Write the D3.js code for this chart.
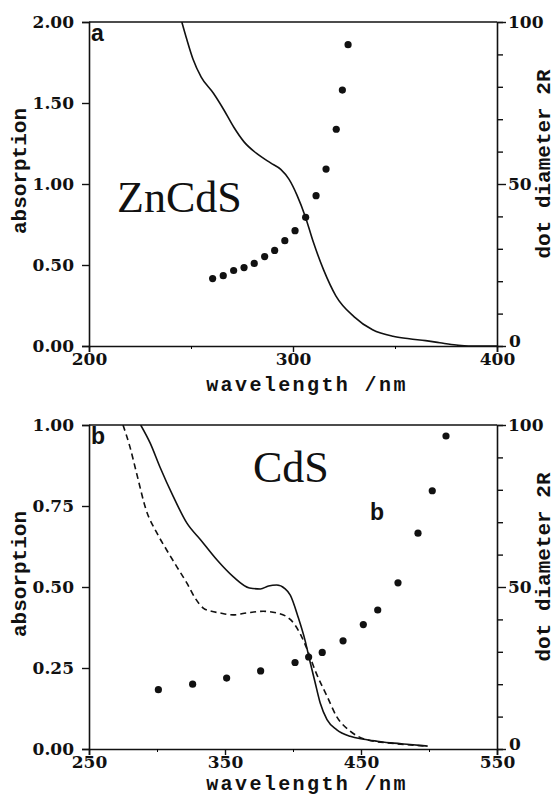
<!DOCTYPE html>
<html>
<head>
<meta charset="utf-8">
<script src="https://cdn.jsdelivr.net/npm/d3@7"></script>
<style>
body { margin: 0; background: #fff; }
.tick-label { font-family: 'DejaVu Serif', serif; font-weight: bold; font-size: 17px; fill: #111; }
.title { font-family: 'Liberation Mono', monospace; font-weight: bold; font-size: 21px; fill: #111; }
.xtitle { font-family: 'Liberation Mono', monospace; font-weight: bold; font-size: 20px; letter-spacing: 2.4px; fill: #111; }
.big { font-family: 'Liberation Serif', serif; font-size: 44px; fill: #111; }
.tag { font-family: 'Liberation Sans', sans-serif; font-weight: bold; font-size: 23px; fill: #111; }
</style>
</head>
<body>
<svg width="555" height="796"></svg>
<script>
// ZnCdS absorption spectrum (panel a)
var zncdsWl  = [245.5, 248, 251, 255, 261, 266, 271, 276, 282, 289, 294, 298, 302, 306, 310, 315, 321, 330, 339, 349, 357, 365, 372, 380, 386, 400];
var zncdsAbs = [2.00, 1.89, 1.77, 1.66, 1.56, 1.46, 1.35, 1.26, 1.19, 1.13, 1.09, 1.03, 0.93, 0.80, 0.64, 0.47, 0.31, 0.18, 0.10, 0.06, 0.045, 0.033, 0.02, 0.006, 0.0, 0.0];
// ZnCdS dot diameter points
var zncdsDotWl   = [260.6, 265.8, 270.9, 276, 281, 286.1, 291, 296, 301, 306.2, 311.3, 316.2, 321.2, 324.2, 327];
var zncdsDotSize = [20.8, 21.7, 23.3, 24.2, 25.5, 27.6, 29.5, 32.5, 35.6, 39.7, 46.4, 54.6, 66.9, 79.0, 93.0];

// CdS spectra (panel b), solid and dashed
var cdsWlSolid  = [288, 295, 302, 312, 322, 332, 344, 356, 368, 376, 382, 388, 394, 398, 404, 409, 412.5, 416, 420, 425, 432, 442, 452, 462, 474, 486, 499];
var cdsAbsSolid = [1.00, 0.944, 0.872, 0.779, 0.697, 0.646, 0.584, 0.532, 0.497, 0.494, 0.503, 0.506, 0.495, 0.475, 0.404, 0.333, 0.27, 0.21, 0.142, 0.091, 0.060, 0.039, 0.030, 0.024, 0.018, 0.014, 0.009];
var cdsWlDash  = [275, 280, 285, 292, 300, 307, 314.5, 322, 328, 334, 340, 346, 356, 366, 378, 388, 398, 405, 411, 417, 425, 432, 442, 454, 474, 499];
var cdsAbsDash = [1.00, 0.934, 0.851, 0.738, 0.666, 0.615, 0.563, 0.512, 0.466, 0.435, 0.425, 0.42, 0.414, 0.42, 0.425, 0.42, 0.40, 0.358, 0.301, 0.235, 0.163, 0.101, 0.055, 0.029, 0.017, 0.009];
// CdS dot diameter points
var cdsDotWl   = [301, 326.2, 351.2, 376.2, 401.5, 411.5, 421.5, 436.8, 451.7, 462.3, 477.2, 491.9, 502.4, 512.5];
var cdsDotSize = [18.3, 20.0, 21.9, 24.1, 26.7, 28.4, 29.8, 33.4, 38.4, 42.9, 51.3, 66.6, 79.7, 96.6];

// tick values
var zncdsXTicks = [200, 300, 400];
var zncdsYTicks = [0, 0.5, 1.0, 1.5, 2.0];
var cdsXTicks = [250, 350, 450, 550];
var cdsYTicks = [0, 0.25, 0.5, 0.75, 1.0];
var sizeTicks = [0, 10, 20, 30, 40, 50, 60, 70, 80, 90, 100];
var sizeLabels = [0, 50, 100];

var svg = d3.select('svg');
var plotW = 408, plotH = 324;

function drawPanel(opts) {
    var g = svg.append('g')
        .attr('transform', 'translate(' + [89, opts.top] + ')');
    var x = d3.scaleLinear().domain(opts.xDomain).range([0, plotW]);
    var y = d3.scaleLinear().domain(opts.yDomain).range([plotH, 0]);
    var y2 = d3.scaleLinear().domain([0, 100]).range([plotH, 0]);

    g.append('clipPath').attr('id', opts.id + '-clip')
        .append('rect').attr('width', plotW).attr('height', plotH);

    // frame top
    g.append('line').attr('x1', 0).attr('x2', plotW).attr('y1', 0).attr('y2', 0)
        .attr('stroke', '#111').attr('stroke-width', 1.6);

    // bottom axis
    var xMinor = [];
    for (var i = 0; i < opts.xTicks.length - 1; i++) xMinor.push((opts.xTicks[i] + opts.xTicks[i + 1]) / 2);
    var xAxis = g.append('g').attr('class', 'x axis')
        .attr('transform', 'translate(0,' + plotH + ')')
        .call(d3.axisBottom(x).tickValues(opts.xTicks).tickSize(6).tickFormat(d3.format('d')));
    g.append('g').attr('transform', 'translate(0,' + plotH + ')')
        .call(d3.axisBottom(x).tickValues(xMinor).tickSize(3).tickFormat(''))
        .select('.domain').remove();

    // left axis
    var yAxis = g.append('g').attr('class', 'y axis')
        .call(d3.axisLeft(y).tickValues(opts.yTicks).tickSize(7).tickFormat(d3.format('.2f')));

    // right axis
    var y2Axis = g.append('g').attr('class', 'y2 axis')
        .attr('transform', 'translate(' + plotW + ',0)')
        .call(d3.axisRight(y2).tickValues(sizeTicks).tickSize(6)
            .tickFormat(function(d) { return sizeLabels.indexOf(d) >= 0 ? d : ''; }));
    y2Axis.selectAll('.tick line').attr('x2', function(d) { return sizeLabels.indexOf(d) >= 0 ? 9 : 6; });

    [xAxis, yAxis, y2Axis].forEach(function(a) {
        a.select('.domain').attr('stroke', '#111').attr('stroke-width', 1.6);
        a.selectAll('.tick line').attr('stroke', '#111').attr('stroke-width', 1.4);
        a.selectAll('.tick text').attr('class', 'tick-label').attr('font-size', null).attr('font-family', null);
    });
    xAxis.selectAll('.tick text').attr('dy', '0.95em').attr('y', 3);
    yAxis.selectAll('.tick text').attr('x', -15);
    y2Axis.selectAll('.tick text').attr('x', function(d) { return d === 0 ? 12 : 11; })
        .attr('dy', function(d) { return d === 0 ? '0.05em' : '0.32em'; });

    // curves
    var plot = g.append('g').attr('clip-path', 'url(#' + opts.id + '-clip)');
    var line = d3.line()
        .x(function(d) { return x(d[0]); })
        .y(function(d) { return y(d[1]); })
        .curve(d3.curveMonotoneX);
    opts.curves.forEach(function(c) {
        plot.append('path')
            .datum(d3.zip(c.wl, c.abs))
            .attr('fill', 'none')
            .attr('stroke', '#111')
            .attr('stroke-width', 1.6)
            .attr('stroke-dasharray', c.dash ? '6,4' : null)
            .attr('d', line);
    });

    // dot diameter points
    g.selectAll('.dot')
        .data(d3.zip(opts.dotWl, opts.dotSize))
        .enter().append('circle')
        .attr('class', 'dot')
        .attr('cx', function(d) { return x(d[0]); })
        .attr('cy', function(d) { return y2(d[1]); })
        .attr('r', 3.6)
        .attr('fill', '#111');

    // axis titles
    g.append('text').attr('class', 'xtitle')
        .attr('transform', 'translate(' + [218, plotH + opts.xTitleGap] + ')')
        .attr('text-anchor', 'middle')
        .text('wavelength /nm');
    g.append('text').attr('class', 'title')
        .attr('transform', 'translate(' + [-63, plotH / 2 - 13] + ')rotate(-90)')
        .attr('text-anchor', 'middle')
        .text('absorption');
    g.append('text').attr('class', 'title')
        .attr('transform', 'translate(' + [plotW + 53, plotH / 2 - 20] + ')rotate(-90)')
        .attr('text-anchor', 'middle')
        .text('dot diameter 2R');

    // labels inside the plot
    g.append('text').attr('class', 'tag').attr('x', 2).attr('y', 19).text(opts.tag);
    g.append('text').attr('class', 'big').attr('x', opts.nameX).attr('y', opts.nameY).text(opts.name);
    return g;
}

drawPanel({
    id: 'a', top: 22,
    xDomain: [200, 400], yDomain: [0, 2],
    xTicks: zncdsXTicks, yTicks: zncdsYTicks,
    curves: [{wl: zncdsWl, abs: zncdsAbs, dash: false}],
    dotWl: zncdsDotWl, dotSize: zncdsDotSize,
    tag: 'a', name: 'ZnCdS', nameX: 28, nameY: 190, xTitleGap: 45
});

var gb = drawPanel({
    id: 'b', top: 425,
    xDomain: [250, 550], yDomain: [0, 1],
    xTicks: cdsXTicks, yTicks: cdsYTicks,
    curves: [{wl: cdsWlSolid, abs: cdsAbsSolid, dash: false}, {wl: cdsWlDash, abs: cdsAbsDash, dash: true}],
    dotWl: cdsDotWl, dotSize: cdsDotSize,
    tag: 'b', name: 'CdS', nameX: 164, nameY: 57, xTitleGap: 40.5
});
gb.append('text').attr('class', 'tag').attr('x', 281).attr('y', 95).text('b');
</script>
</body>
</html>
